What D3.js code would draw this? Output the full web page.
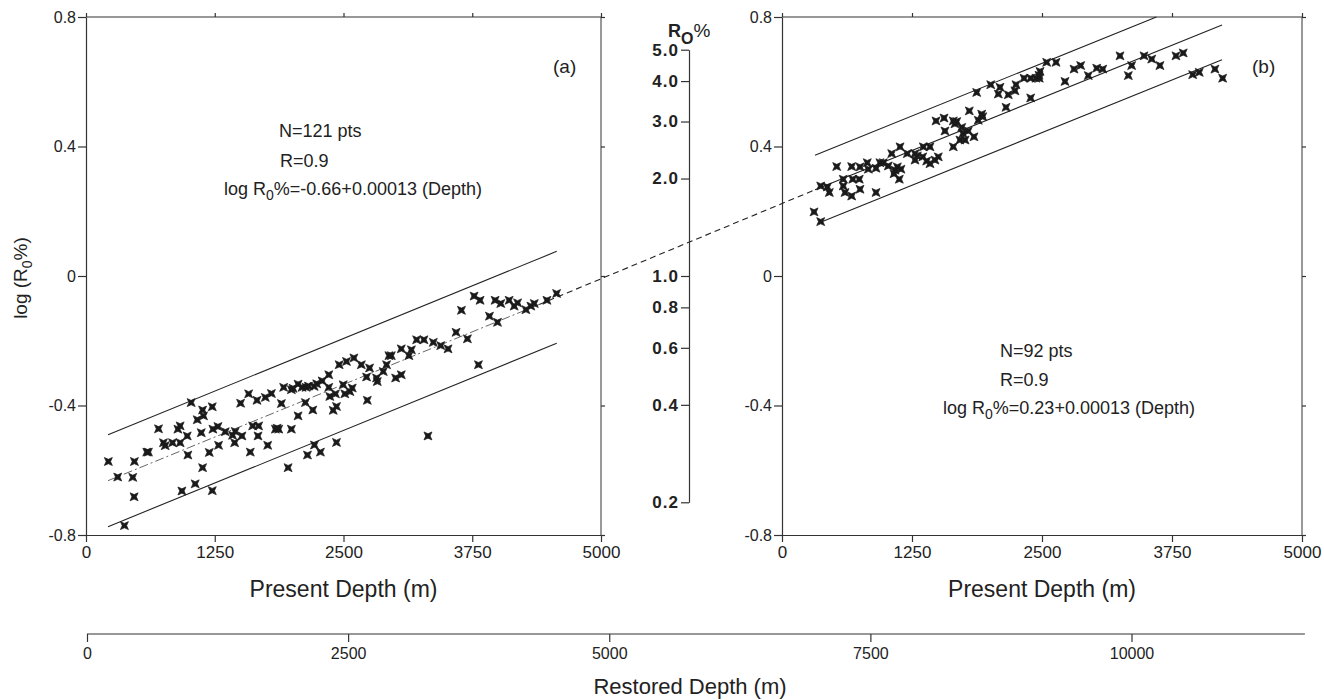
<!DOCTYPE html>
<html><head><meta charset="utf-8">
<script src="https://cdn.jsdelivr.net/npm/d3@7"></script>
<style>
body{margin:0;background:#fff}
text{font-family:"Liberation Sans",Arial,Helvetica,sans-serif;fill:#222}
</style>
</head><body>
<svg id="c" width="1324" height="700"></svg>
<script>
// ---------- data ----------
const depthTicks = [0, 1250, 2500, 3750, 5000];
const logTicks = [-0.8, -0.4, 0, 0.4, 0.8];
const roTicks = [5.0, 4.0, 3.0, 2.0, 1.0, 0.8, 0.6, 0.4, 0.2];
const restoredTicks = [0, 2500, 5000, 7500, 10000];
const restoredMax = 11660;

// panel (a): [present depth m, log Ro%]
const pointsA = [
[217,-0.573],[308,-0.621],[470,-0.573],[454,-0.622],[467,-0.682],[373,-0.771],[590,-0.544],[606,-0.544],
[704,-0.472],[752,-0.515],[769,-0.524],[840,-0.515],[914,-0.515],[892,-0.473],[914,-0.463],[983,-0.494],
[989,-0.553],[1021,-0.391],[1080,-0.444],[1132,-0.414],[1141,-0.432],[1119,-0.484],[1132,-0.592],[1060,-0.642],
[931,-0.664],[1226,-0.663],[1197,-0.545],[1226,-0.404],[1232,-0.473],[1281,-0.465],[1287,-0.523],[1352,-0.481],
[1423,-0.492],[1449,-0.480],[1443,-0.515],[1514,-0.494],[1501,-0.393],[1579,-0.364],[1595,-0.544],[1618,-0.463],
[1660,-0.384],[1676,-0.463],[1670,-0.494],[1741,-0.375],[1800,-0.363],[1764,-0.523],[1839,-0.473],[1871,-0.473],
[1897,-0.394],[1919,-0.344],[1962,-0.592],[1994,-0.473],[1994,-0.351],[2059,-0.334],[2098,-0.344],[2137,-0.344],
[2059,-0.432],[2130,-0.391],[2202,-0.414],[2215,-0.341],[2293,-0.324],[2218,-0.522],[2150,-0.553],[2276,-0.544],
[2357,-0.305],[2357,-0.344],[2367,-0.372],[2400,-0.415],[2432,-0.403],[2432,-0.514],[2422,-0.364],[2458,-0.274],
[2497,-0.336],[2513,-0.364],[2529,-0.264],[2562,-0.357],[2585,-0.346],[2601,-0.253],[2673,-0.274],[2731,-0.384],
[2724,-0.312],[2753,-0.284],[2821,-0.315],[2828,-0.326],[2886,-0.295],[2918,-0.274],[2941,-0.246],[2964,-0.246],
[3006,-0.315],[3061,-0.305],[3061,-0.225],[3135,-0.246],[3159,-0.228],[3210,-0.197],[3281,-0.197],[3320,-0.494],
[3372,-0.205],[3444,-0.215],[3515,-0.225],[3593,-0.174],[3645,-0.106],[3703,-0.194],[3768,-0.062],[3826,-0.075],
[3810,-0.274],[3917,-0.124],[3972,-0.075],[3995,-0.143],[4027,-0.085],[4108,-0.075],[4157,-0.093],[4190,-0.083],
[4271,-0.104],[4319,-0.093],[4352,-0.085],[4475,-0.075],[4569,-0.054],[1855,-0.470],[2010,-0.347],[2160,-0.340],
[2240,-0.333]
];

// panel (b): [present depth m, log Ro%]
const pointsB = [
[308,0.198],[372,0.168],[372,0.278],[436,0.275],[455,0.258],[526,0.338],[589,0.299],[589,0.278],
[606,0.258],[670,0.247],[680,0.299],[670,0.338],[750,0.337],[743,0.299],[750,0.268],[820,0.350],
[830,0.330],[904,0.258],[904,0.333],[942,0.350],[974,0.350],[1022,0.340],[1055,0.378],[1087,0.327],
[1109,0.337],[1128,0.299],[1144,0.330],[1135,0.399],[1205,0.378],[1279,0.378],[1279,0.358],[1301,0.371],
[1353,0.368],[1359,0.399],[1423,0.399],[1423,0.347],[1471,0.358],[1503,0.368],[1481,0.479],[1558,0.488],
[1567,0.448],[1647,0.479],[1680,0.477],[1647,0.399],[1711,0.420],[1760,0.420],[1728,0.459],[1791,0.448],
[1801,0.510],[1846,0.430],[1887,0.481],[1920,0.500],[1930,0.492],[2007,0.591],[1872,0.567],[2080,0.562],
[2096,0.583],[2154,0.521],[2176,0.560],[2240,0.572],[2250,0.591],[2327,0.611],[2391,0.611],[2391,0.550],
[2442,0.611],[2474,0.611],[2481,0.632],[2545,0.660],[2635,0.660],[2721,0.601],[2808,0.639],[2872,0.650],
[2945,0.619],[3026,0.642],[3084,0.639],[3250,0.680],[3330,0.619],[3362,0.650],[3481,0.680],[3555,0.670],
[3634,0.650],[3788,0.680],[3858,0.689],[3949,0.622],[4012,0.629],[4163,0.639],[4237,0.611],[1391,0.355],
[1077,0.316],[2471,0.620],[1663,0.470],[1740,0.440]
];

// fitted lines as drawn: log Ro = intercept + slope*depth, envelope +/- band
const fitA = {intercept: -0.66, slope: 0.00013, band: 0.142, from: 214, to: 4570, dashTo: 4400};
const fitB = {intercept: 0.225, slope: 0.00013, band: 0.107, from: 317, to: 4231};

const annotA = ["N=121 pts", "R=0.9", ["log R", "0", "%=-0.66+0.00013 (Depth)"]];
const annotB = ["N=92 pts", "R=0.9", ["log R", "0", "%=0.23+0.00013 (Depth)"]];

// ---------- drawing ----------
const svg = d3.select("#c");
const xA = d3.scaleLinear([0, 5000], [86, 601]);
const xB = d3.scaleLinear([0, 5000], [782, 1302]);
const y = d3.scaleLinear([-0.8, 0.8], [535, 17]);
const yRo = d3.scaleLog([0.2, 5], [y(Math.log10(0.2)), y(Math.log10(5))]);
const xR = d3.scaleLinear([0, 10000], [87, 1131.5]);

const axisColor = "#333";
function styleAxis(g, fs, bold) {
  g.selectAll("path,line").attr("stroke", axisColor).attr("stroke-width", 1.2);
  g.selectAll("text").attr("font-size", fs).attr("fill", "#222")
    .attr("font-family", '"Liberation Sans",Arial,Helvetica,sans-serif')
    .attr("font-weight", bold ? "bold" : "normal");
}
const fmtLog = d => d === 0 ? "0" : String(d);

function panel(x, pts, fit, annot, annotPos, tag, tagPos, clipTop) {
  const g = svg.append("g");
  // frame top & right
  g.append("line").attr("x1", x(0)).attr("x2", x(5000)).attr("y1", y(0.8)).attr("y2", y(0.8))
    .attr("stroke", axisColor).attr("stroke-width", 1.2);
  g.append("line").attr("x1", x(5000)).attr("x2", x(5000)).attr("y1", y(0.8)).attr("y2", y(-0.8))
    .attr("stroke", "#555").attr("stroke-width", 1.2);
  // top ticks
  const gt = g.append("g").attr("transform", `translate(0,${y(0.8)})`)
    .call(d3.axisTop(x).tickValues(depthTicks).tickSize(4).tickSizeOuter(0).tickFormat(""));
  styleAxis(gt, 16); gt.select(".domain").remove();
  // right ticks
  const gr = g.append("g").attr("transform", `translate(${x(5000)},0)`)
    .call(d3.axisRight(y).tickValues(logTicks).tickSize(4).tickSizeOuter(0).tickFormat(""));
  styleAxis(gr, 16); gr.select(".domain").remove();
  // bottom axis
  const gb = g.append("g").attr("transform", `translate(0,${y(-0.8)})`)
    .call(d3.axisBottom(x).tickValues(depthTicks).tickSize(7).tickSizeOuter(0).tickPadding(4).tickFormat(d => d));
  styleAxis(gb, 17);
  // left axis
  const gl = g.append("g").attr("transform", `translate(${x(0)},0)`)
    .call(d3.axisLeft(y).tickValues(logTicks).tickSize(8).tickSizeOuter(0).tickPadding(2).tickFormat(fmtLog));
  styleAxis(gl, 16);
  // x title
  g.append("text").attr("x", (x(0) + x(5000)) / 2).attr("y", 597).attr("text-anchor", "middle")
    .attr("font-size", 23).text("Present Depth (m)");
  // tag
  g.append("text").attr("x", tagPos[0]).attr("y", tagPos[1]).attr("font-size", 19).text(tag);
  // annotations
  g.append("text").attr("x", annotPos[0][0]).attr("y", annotPos[0][1]).attr("font-size", 18).text(annot[0]);
  g.append("text").attr("x", annotPos[1][0]).attr("y", annotPos[1][1]).attr("font-size", 18).text(annot[1]);
  const t = g.append("text").attr("x", annotPos[2][0]).attr("y", annotPos[2][1]).attr("font-size", 18);
  t.append("tspan").text(annot[2][0]);
  t.append("tspan").attr("dy", 5).attr("font-size", 14).text(annot[2][1]);
  t.append("tspan").attr("dy", -5).text(annot[2][2]);
  // fit lines
  const f = d => fit.intercept + fit.slope * d;
  const ln = d3.line().x(d => x(d[0])).y(d => y(d[1]));
  [fit.band, -fit.band].forEach(b => {
    let d0 = fit.from, d1 = fit.to;
    if (clipTop) d1 = Math.min(d1, (0.8 - fit.intercept - b) / fit.slope);
    if (b < 0 && clipTop) d0 = fit.from + 48;
    g.append("path").attr("d", ln([[d0, f(d0) + b], [d1, f(d1) + b]]))
      .attr("fill", "none").attr("stroke", "#222").attr("stroke-width", 1.1);
  });
  return {g, f};
}

const pa = panel(xA, pointsA, fitA, annotA, [[279, 137], [280, 167], [224, 195]], "(a)", [553, 73], false);
const pb = panel(xB, pointsB, fitB, annotB, [[1000, 357], [1000, 386], [943, 414]], "(b)", [1252, 73], true);

// middle regression lines
const lnA = d3.line().x(d => xA(d[0])).y(d => y(d[1]));
svg.append("path").attr("d", lnA([[fitA.from, pa.f(fitA.from)], [fitA.dashTo, pa.f(fitA.dashTo)]]))
  .attr("fill", "none").attr("stroke", "#555").attr("stroke-width", 0.9).attr("stroke-dasharray", "9,3,2,3");
const lnB = d3.line().x(d => xB(d[0])).y(d => y(d[1]));
svg.append("path").attr("d", lnB([[fitB.from, pb.f(fitB.from)], [fitB.to, pb.f(fitB.to)]]))
  .attr("fill", "none").attr("stroke", "#222").attr("stroke-width", 1.1);
// dashed link between panels
svg.append("path")
  .attr("d", d3.line()([[xA(fitA.dashTo), y(pa.f(fitA.dashTo))], [xB(fitB.from), y(pb.f(fitB.from))]]))
  .attr("fill", "none").attr("stroke", "#222").attr("stroke-width", 1.1).attr("stroke-dasharray", "6,4");

// markers
const star = "M-4,-4L0,-2.2L4,-4L2.2,0L4,4L0,2.2L-4,4L-2.2,0Z";
function markers(x, pts) {
  svg.append("g").selectAll("path").data(pts).join("path")
    .attr("d", star).attr("fill", "#1a1a1a").attr("stroke", "#1a1a1a").attr("stroke-width", 0.7)
    .attr("transform", d => `translate(${x(d[0])},${y(d[1])})`);
}
markers(xA, pointsA);
markers(xB, pointsB);

// y title
const yt = svg.append("text").attr("transform", "translate(27,278) rotate(-90)")
  .attr("text-anchor", "middle").attr("font-size", 19);
yt.append("tspan").text("log (R");
yt.append("tspan").attr("dy", 5).attr("font-size", 14).text("0");
yt.append("tspan").attr("dy", -5).text("%)");

// Ro% axis
const gm = svg.append("g").attr("transform", "translate(689,0)")
  .call(d3.axisLeft(yRo).tickValues(roTicks).tickSize(8).tickSizeOuter(0).tickPadding(2).tickFormat(d3.format(".1f")));
styleAxis(gm, 17, true);
gm.selectAll("text").attr("letter-spacing", 1);
const rt = svg.append("text").attr("x", 668).attr("y", 37).attr("font-size", 18).attr("font-weight", "bold");
rt.append("tspan").text("R");
rt.append("tspan").attr("dy", 7).attr("font-size", 16).text("O");
rt.append("tspan").attr("dy", -7).attr("font-weight", "normal").attr("font-size", 19).text("%");

// restored depth axis
const gR = svg.append("g").attr("transform", "translate(0,634)")
  .call(d3.axisBottom(xR).tickValues(restoredTicks).tickSize(8).tickSizeOuter(0).tickPadding(6).tickFormat(d => d));
styleAxis(gR, 16);
gR.select(".domain").attr("d", `M${xR(0)},0H${xR(restoredMax)}`);
svg.append("text").attr("x", 690).attr("y", 694).attr("text-anchor", "middle").attr("font-size", 22)
  .text("Restored Depth (m)");
</script>
</body></html>
